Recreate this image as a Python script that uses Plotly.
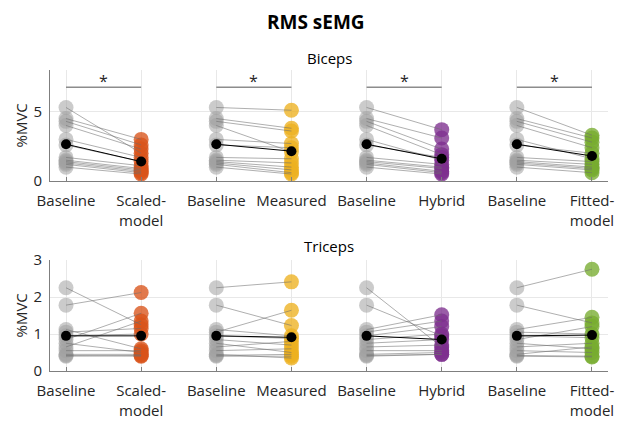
import plotly.graph_objects as go

# ---------------- data ----------------
conditions = ["Scaled-model", "Measured", "Hybrid", "Fitted-model"]
tick_labels = ["Baseline", "Scaled-<br>model", "Baseline", "Measured",
               "Baseline", "Hybrid", "Baseline", "Fitted-<br>model"]
cond_colors = ["rgba(217,83,25,0.78)", "rgba(237,177,32,0.78)",
               "rgba(126,47,142,0.78)", "rgba(119,172,48,0.78)"]

biceps_baseline = [5.3, 4.5, 4.3, 4.0, 3.0, 2.6, 1.7, 1.5, 1.4, 1.3, 1.2, 1.0]
biceps_scaled   = [2.0, 3.0, 2.6, 2.3, 1.7, 1.4, 1.1, 0.9, 0.8, 0.7, 0.6, 0.5]
biceps_measured = [5.1, 3.8, 3.6, 2.1, 2.7, 2.4, 1.6, 1.3, 1.0, 0.8, 0.6, 0.5]
biceps_hybrid   = [3.7, 3.1, 2.3, 1.9, 1.5, 1.7, 1.2, 1.0, 0.9, 0.7, 0.6, 0.5]
biceps_fitted   = [3.3, 3.1, 2.8, 2.4, 1.6, 2.0, 1.4, 1.2, 1.0, 0.9, 0.8, 0.6]
biceps_mean_baseline = 2.65
biceps_means = [1.40, 2.15, 1.60, 1.80]

triceps_baseline = [2.25, 1.78, 1.12, 1.05, 0.95, 0.85, 0.75, 0.65, 0.55, 0.45, 0.42, 0.40]
triceps_scaled   = [1.25, 2.12, 0.60, 1.15, 1.00, 1.56, 0.50, 1.35, 0.55, 0.45, 0.40, 0.42]
triceps_measured = [2.41, 1.23, 0.95, 1.64, 0.88, 0.70, 0.50, 0.80, 0.60, 0.35, 0.45, 0.40]
triceps_hybrid   = [0.65, 0.95, 1.52, 1.35, 1.20, 1.00, 0.85, 0.70, 0.55, 0.50, 0.45, 0.45]
triceps_fitted   = [2.75, 1.30, 1.45, 1.00, 0.90, 1.20, 0.60, 0.75, 0.50, 0.65, 0.40, 0.38]
triceps_mean_baseline = 0.95
triceps_means = [0.95, 0.91, 0.85, 0.97]

biceps_sig = [True, True, True, True]
triceps_sig = [False, False, False, False]
sig_level = 6.75

# ---------------- figure ----------------
# page body has an 8px margin, so the figure is sized to the visible area
W, H, OFF = 616, 418, 8
def px_x(v):
    return (v - OFF) / W
def px_y(v):
    return 1 - (v - OFF) / H

fig = go.Figure()
FONT = "Open Sans, Noto Sans, sans-serif"
TXT = "#262626"

panels = [
    dict(xa="x", ya="y", base=biceps_baseline,
         conds=[biceps_scaled, biceps_measured, biceps_hybrid, biceps_fitted],
         mb=biceps_mean_baseline, means=biceps_means, sig=biceps_sig),
    dict(xa="x2", ya="y2", base=triceps_baseline,
         conds=[triceps_scaled, triceps_measured, triceps_hybrid, triceps_fitted],
         mb=triceps_mean_baseline, means=triceps_means, sig=triceps_sig),
]

for p in panels:
    for k, vals in enumerate(p["conds"]):
        x0, x1 = 2 * k + 1, 2 * k + 2
        fig.add_trace(go.Scatter(x=[x0] * len(p["base"]), y=p["base"], mode="markers",
                                 xaxis=p["xa"], yaxis=p["ya"], showlegend=False,
                                 marker=dict(size=15, color="rgba(160,160,160,0.55)",
                                             line=dict(width=0))))
        fig.add_trace(go.Scatter(x=[x1] * len(vals), y=vals, mode="markers",
                                 xaxis=p["xa"], yaxis=p["ya"], showlegend=False,
                                 marker=dict(size=15, color=cond_colors[k],
                                             line=dict(width=0))))
        lx, ly = [], []
        for b, v in zip(p["base"], vals):
            lx += [x0, x1, None]
            ly += [b, v, None]
        fig.add_trace(go.Scatter(x=lx, y=ly, mode="lines", xaxis=p["xa"], yaxis=p["ya"],
                                 showlegend=False,
                                 line=dict(color="rgba(110,110,110,0.55)", width=1)))
        fig.add_trace(go.Scatter(x=[x0, x1], y=[p["mb"], p["means"][k]], mode="lines+markers",
                                 xaxis=p["xa"], yaxis=p["ya"], showlegend=False,
                                 line=dict(color="black", width=1),
                                 marker=dict(size=10, color="black")))
        if p["sig"][k]:
            fig.add_trace(go.Scatter(x=[x0, x1], y=[sig_level, sig_level], mode="lines",
                                     xaxis=p["xa"], yaxis=p["ya"], showlegend=False,
                                     line=dict(color="#8c8c8c", width=1.5)))
            fig.add_annotation(x=(x0 + x1) / 2, y=sig_level, xref=p["xa"], yref=p["ya"],
                               text="*", showarrow=False, xanchor="center", yanchor="bottom",
                               yshift=-7, font=dict(size=16, color=TXT, family=FONT))

xdom = [px_x(50), px_x(608)]
xcommon = dict(range=[0.787, 8.213], tickmode="array", tickvals=list(range(1, 9)),
               ticktext=tick_labels, showgrid=True, gridcolor="#e8e8e8", gridwidth=1,
               showline=True, linecolor="#7f7f7f", linewidth=1, ticks="inside",
               ticklen=4, tickcolor="#7f7f7f", zeroline=False, domain=xdom,
               automargin=False, ticklabelstandoff=6,
               tickfont=dict(size=15, color=TXT, family=FONT))
ycommon = dict(showgrid=True, gridcolor="#e8e8e8", gridwidth=1, showline=True,
               linecolor="#7f7f7f", linewidth=1, zeroline=False, ticks="",
               automargin=False, ticklabelstandoff=4,
               tickfont=dict(size=15, color=TXT, family=FONT))

top_dom = [px_y(181), px_y(70)]
bot_dom = [px_y(371), px_y(260)]

fig.update_layout(
    width=W, height=H, margin=dict(l=0, r=0, t=0, b=0, autoexpand=False),
    paper_bgcolor="white", plot_bgcolor="white",
    xaxis=dict(**xcommon, anchor="y"),
    xaxis2=dict(**xcommon, anchor="y2"),
    yaxis=dict(**ycommon, domain=top_dom, range=[0, 8], tickvals=[0, 5], anchor="x"),
    yaxis2=dict(**ycommon, domain=bot_dom, range=[0, 3], tickvals=[0, 1, 2, 3], anchor="x2"),
)

xmid = (xdom[0] + xdom[1]) / 2
fig.add_annotation(x=px_x(316), y=px_y(22), xref="paper", yref="paper", text="<b>RMS sEMG</b>",
                   showarrow=False, xanchor="center", yanchor="middle",
                   font=dict(size=19, color="black", family=FONT))
fig.add_annotation(x=xmid, y=px_y(58), xref="paper", yref="paper",
                   text="Biceps", showarrow=False, xanchor="center", yanchor="middle",
                   font=dict(size=15, color="black", family=FONT))
fig.add_annotation(x=xmid, y=px_y(246), xref="paper", yref="paper",
                   text="Triceps", showarrow=False, xanchor="center", yanchor="middle",
                   font=dict(size=15, color="black", family=FONT))
for dom in (top_dom, bot_dom):
    fig.add_annotation(x=px_x(20), y=(dom[0] + dom[1]) / 2, xref="paper", yref="paper",
                       text="%MVC", textangle=-90, showarrow=False,
                       xanchor="center", yanchor="middle",
                       font=dict(size=15, color=TXT, family=FONT))

fig.write_html("out.html")
